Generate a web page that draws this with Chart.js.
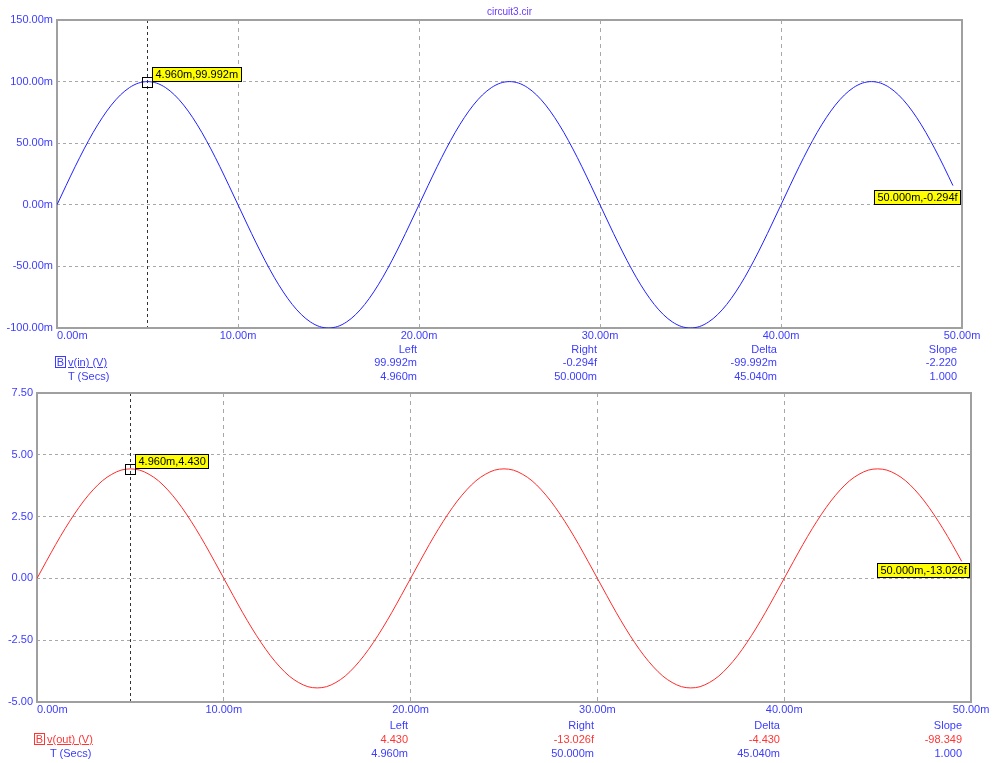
<!DOCTYPE html>
<html>
<head>
<meta charset="utf-8">
<script src="https://cdn.jsdelivr.net/npm/chart.js@4.4.0/dist/chart.umd.min.js"></script>
<style>
body{margin:0;background:#fff;}
#wrap{position:relative;width:993px;height:763px;overflow:hidden;font-family:"Liberation Sans",Arial,sans-serif;font-size:11px;}
canvas{position:absolute;left:0;}
#c1{top:0;}
#c2{top:385px;}
.t{position:absolute;white-space:nowrap;line-height:14px;height:14px;}
.blue{color:#3c3cff;}
.red{color:#ff3535;}
.bx{position:absolute;border:1px solid;width:9px;height:10px;line-height:10px;text-align:center;font-size:11px;}
.u{text-decoration:underline;}
</style>
</head>
<body>
<div id="wrap">
  <canvas id="c1" width="993" height="385"></canvas>
  <canvas id="c2" width="993" height="378"></canvas>
</div>
<script>
// sample times (ms) and the two traces
const timeMs = [0,0.5,1,1.5,2,2.5,3,3.5,4,4.5,5,5.5,6,6.5,7,7.5,8,8.5,9,9.5,
  10,10.5,11,11.5,12,12.5,13,13.5,14,14.5,15,15.5,16,16.5,17,17.5,18,18.5,19,19.5,
  20,20.5,21,21.5,22,22.5,23,23.5,24,24.5,25,25.5,26,26.5,27,27.5,28,28.5,29,29.5,
  30,30.5,31,31.5,32,32.5,33,33.5,34,34.5,35,35.5,36,36.5,37,37.5,38,38.5,39,39.5,
  40,40.5,41,41.5,42,42.5,43,43.5,44,44.5,45,45.5,46,46.5,47,47.5,48,48.5,49,49.5];

const vinMv = [0,15.6,30.9,45.4,58.8,70.7,80.9,89.1,95.1,98.8,100,98.8,95.1,89.1,80.9,70.7,58.8,45.4,30.9,15.6,
  0,-15.6,-30.9,-45.4,-58.8,-70.7,-80.9,-89.1,-95.1,-98.8,-100,-98.8,-95.1,-89.1,-80.9,-70.7,-58.8,-45.4,-30.9,-15.6,
  0,15.6,30.9,45.4,58.8,70.7,80.9,89.1,95.1,98.8,100,98.8,95.1,89.1,80.9,70.7,58.8,45.4,30.9,15.6,
  0,-15.6,-30.9,-45.4,-58.8,-70.7,-80.9,-89.1,-95.1,-98.8,-100,-98.8,-95.1,-89.1,-80.9,-70.7,-58.8,-45.4,-30.9,-15.6,
  0,15.6,30.9,45.4,58.8,70.7,80.9,89.1,95.1,98.8,100,98.8,95.1,89.1,80.9,70.7,58.8,45.4,30.9,15.6];

const voutV = [0,0.69,1.37,2.01,2.60,3.13,3.58,3.95,4.21,4.38,4.43,4.38,4.21,3.95,3.58,3.13,2.60,2.01,1.37,0.69,
  0,-0.69,-1.37,-2.01,-2.60,-3.13,-3.58,-3.95,-4.21,-4.38,-4.43,-4.38,-4.21,-3.95,-3.58,-3.13,-2.60,-2.01,-1.37,-0.69,
  0,0.69,1.37,2.01,2.60,3.13,3.58,3.95,4.21,4.38,4.43,4.38,4.21,3.95,3.58,3.13,2.60,2.01,1.37,0.69,
  0,-0.69,-1.37,-2.01,-2.60,-3.13,-3.58,-3.95,-4.21,-4.38,-4.43,-4.38,-4.21,-3.95,-3.58,-3.13,-2.60,-2.01,-1.37,-0.69,
  0,0.69,1.37,2.01,2.60,3.13,3.58,3.95,4.21,4.38,4.43,4.38,4.21,3.95,3.58,3.13,2.60,2.01,1.37,0.69];

const xRange = [0, 50, 10];          // min, max, step (ms)
const vinRange = [-100, 150, 50];    // mV
const voutRange = [-5, 7.5, 2.5];    // V

// cursors
const cursorT = [4.96, 50.0];
const vinAtCursor = [99.992, 0];
const voutAtCursor = [4.430, 0];
const vinCursorTags = ['4.960m,99.992m', '50.000m,-0.294f'];
const voutCursorTags = ['4.960m,4.430', '50.000m,-13.026f'];

// readout tables
const colHeads = ['Left', 'Right', 'Delta', 'Slope'];
const vinRow = ['99.992m', '-0.294f', '-99.992m', '-2.220'];
const voutRow = ['4.430', '-13.026f', '-4.430', '-98.349'];
const timeRow = ['4.960m', '50.000m', '45.040m', '1.000'];

const FONT = '"Liberation Sans", Arial, sans-serif';
const TICK = '#3c3cff';

function q(id){ return document.getElementById(id); }

function tag(ctx, text, x, yBottom, alignRight){
  ctx.font = '11px ' + FONT;
  const w = Math.round(ctx.measureText(text).width) + 7, h = 15;
  const left = Math.round(alignRight ? x - w : x), top = Math.round(yBottom - h);
  ctx.fillStyle = '#ffff00';
  ctx.fillRect(left, top, w, h);
  ctx.strokeStyle = '#000'; ctx.lineWidth = 1; ctx.setLineDash([]);
  ctx.strokeRect(left + 0.5, top + 0.5, w - 1, h - 1);
  ctx.fillStyle = '#000'; ctx.textAlign = 'left'; ctx.textBaseline = 'middle';
  ctx.fillText(text, left + 3.5, top + h / 2 + 0.5);
}

const scope = {
  id: 'scope',
  beforeDatasetsDraw(chart, args, o){
    const {ctx, chartArea: a, scales: {x}} = chart;
    ctx.save();
    ctx.strokeStyle = '#333'; ctx.lineWidth = 1; ctx.setLineDash([3, 3]);
    const cx = Math.round(x.getPixelForValue(o.cursorT[0])) + 0.5;
    ctx.beginPath(); ctx.moveTo(cx, a.top); ctx.lineTo(cx, a.bottom); ctx.stroke();
    ctx.setLineDash([]);
    ctx.strokeStyle = '#a0a0a0'; ctx.lineWidth = 2;
    ctx.strokeRect(a.left, a.top, a.width, a.height);
    ctx.restore();
  },
  afterDatasetsDraw(chart, args, o){
    const {ctx, chartArea: a, scales: {x, y}} = chart;
    ctx.save();
    ctx.font = '11px ' + FONT;
    ctx.fillStyle = TICK; ctx.textBaseline = 'middle';
    x.ticks.forEach((t, i) => {
      ctx.textAlign = i === 0 ? 'left' : 'center';
      ctx.fillText(t.value.toFixed(2) + 'm', x.getPixelForValue(t.value), a.bottom + 8);
    });
    ctx.textAlign = 'right';
    y.ticks.forEach(t => {
      ctx.fillText(t.value.toFixed(2) + o.ySuffix, a.left - 4, y.getPixelForValue(t.value));
    });
    if(o.title){
      ctx.font = '10px ' + FONT; ctx.fillStyle = '#6a3cff'; ctx.textAlign = 'center';
      ctx.fillText(o.title, (a.left + a.right) / 2, a.top - 8);
    }
    // left cursor marker + tag
    const px = x.getPixelForValue(o.cursorT[0]), py = y.getPixelForValue(o.cursorY[0]);
    ctx.strokeStyle = '#000'; ctx.lineWidth = 1;
    ctx.strokeRect(Math.round(px) - 5 + 0.5, Math.round(py) - 5 + 0.5, 10, 10);
    tag(ctx, o.tags[0], Math.round(px) + 5, py, false);
    // right cursor tag
    tag(ctx, o.tags[1], a.right - 1, y.getPixelForValue(o.cursorY[1]), true);
    ctx.restore();
  }
};

function makeScope(canvas, values, color, range, pad, extra){
  return new Chart(canvas, {
    type: 'line',
    data: { datasets: [{ data: timeMs.map((t, i) => ({x: t, y: values[i]})), borderColor: color, borderWidth: 1,
      pointRadius: 0, cubicInterpolationMode: 'monotone', fill: false }] },
    options: {
      responsive: false, animation: false, events: [],
      layout: { padding: pad },
      scales: {
        x: { type: 'linear', min: xRange[0], max: xRange[1],
          ticks: { display: false, stepSize: xRange[2] },
          grid: { color: '#a8a8a8', lineWidth: 1, drawTicks: false },
          border: { display: false, dash: [4, 4] } },
        y: { type: 'linear', min: range[0], max: range[1],
          ticks: { display: false, stepSize: range[2] },
          grid: { color: '#a8a8a8', lineWidth: 1, drawTicks: false },
          border: { display: false, dash: [3, 3] } }
      },
      plugins: { legend: { display: false }, tooltip: { enabled: false }, scope: extra }
    },
    plugins: [scope]
  });
}

makeScope(q('c1'), vinMv, '#2020ff', vinRange, {left: 57, right: 31, top: 20, bottom: 57},
  {cursorT, cursorY: vinAtCursor, tags: vinCursorTags, ySuffix: 'm', title: 'circuit3.cir'});
makeScope(q('c2'), voutV, '#ff2a2a', voutRange, {left: 37, right: 22, top: 8, bottom: 61},
  {cursorT, cursorY: voutAtCursor, tags: voutCursorTags, ySuffix: '', title: ''});

// readout text under each plot
const wrap = q('wrap');
function put(text, cls, x, y, right){
  const d = document.createElement('div');
  d.className = 't ' + cls;
  d.textContent = text;
  if(right) d.style.right = (993 - x) + 'px'; else d.style.left = x + 'px';
  d.style.top = (y - 7) + 'px';
  wrap.appendChild(d);
}
function box(cls, x, y){
  const d = document.createElement('div');
  d.className = 'bx ' + cls;
  d.textContent = 'B';
  d.style.left = x + 'px'; d.style.top = y + 'px';
  wrap.appendChild(d);
}

box('blue', 55, 356);
put('v(in) (V)', 'blue u', 68, 362);
put('T (Secs)', 'blue', 68, 376);
const topCols = [417, 597, 777, 957];
colHeads.forEach((h, i) => {
  put(h, 'blue', topCols[i], 349, true);
  put(vinRow[i], 'blue', topCols[i], 362, true);
  put(timeRow[i], 'blue', topCols[i], 376, true);
});

box('red', 34, 733);
put('v(out) (V)', 'red u', 47, 739);
put('T (Secs)', 'blue', 50, 753);
const botCols = [408, 594, 780, 962];
colHeads.forEach((h, i) => {
  put(h, 'blue', botCols[i], 725, true);
  put(voutRow[i], 'red', botCols[i], 739, true);
  put(timeRow[i], 'blue', botCols[i], 753, true);
});
</script>
</body>
</html>
